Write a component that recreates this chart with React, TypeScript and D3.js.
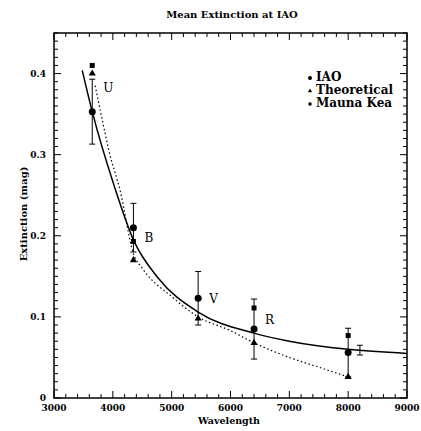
import React, { useEffect, useRef } from "react";
import * as d3 from "d3";

// band labels and wavelengths of the measurements
const bands = ["U", "B", "V", "R", ""];
const wavelengths = [3650, 4350, 5450, 6400, 8000];

// IAO mean extinction with error
const iaoValues = [0.353, 0.21, 0.123, 0.085, 0.056];
const iaoErrors = [0.04, 0.03, 0.033, 0.037, 0.03];

// theoretical values and Mauna Kea values
const theoryValues = [0.4, 0.17, 0.098, 0.068, 0.026];
const maunaWavelengths = [3650, 4350, 6400, 8000];
const maunaValues = [0.41, 0.193, 0.111, 0.077];

// lone error bar near 8200
const extraWavelengths = [8200];
const extraValues = [0.059];
const extraErrors = [0.006];

// fitted IAO curve (solid)
const fitWavelengths = [3480, 3650, 4030, 4350, 4770, 5450, 6400, 7000, 8000, 9000];
const fitValues = [0.404, 0.353, 0.26, 0.195, 0.148, 0.106, 0.08, 0.07, 0.06, 0.055];

// theoretical curve (dotted)
const theoWavelengths = [3700, 3800, 3950, 4120, 4350, 4500, 5000, 5450, 6000, 6400, 7000, 7500, 8000];
const theoCurve = [0.385, 0.35, 0.3, 0.257, 0.178, 0.16, 0.125, 0.1, 0.083, 0.068, 0.05, 0.038, 0.026];

// where the band letters sit (extinction units)
const bandLabelY = [0.384, 0.198, 0.123, 0.098, 0];

const xTicks = [3000, 4000, 5000, 6000, 7000, 8000, 9000];
const yTicks = [0, 0.1, 0.2, 0.3, 0.4];
const legendLabels = ["IAO", "Theoretical", "Mauna Kea"];

const App = () => {
  const ref = useRef<SVGSVGElement>(null);

  useEffect(() => {
    var width = 421,
      height = 431,
      left = 54,
      right = 407,
      top = 33,
      bottom = 398,
      serif = "'DejaVu Serif', serif",
      x = d3.scaleLinear().domain([3000, 9000]).range([left, right]),
      y = d3.scaleLinear().domain([0, 0.45]).range([bottom, top]);

    const svg = d3.select(ref.current);
    svg.selectAll("*").remove();
    svg.attr("width", width).attr("height", height);
    svg.append("rect").attr("width", width).attr("height", height).attr("fill", "#fff");

    // title
    svg
      .append("text")
      .attr("x", 232)
      .attr("y", 18)
      .attr("text-anchor", "middle")
      .attr("font-family", serif)
      .attr("font-weight", "bold")
      .attr("font-size", 10)
      .text("Mean Extinction at IAO");

    // frame
    svg
      .append("rect")
      .attr("x", left)
      .attr("y", top)
      .attr("width", right - left)
      .attr("height", bottom - top)
      .attr("fill", "none")
      .attr("stroke", "#000")
      .attr("stroke-width", 1.5);

    // ticks on all four sides, pointing in
    const ticks = svg.append("g").attr("stroke", "#000").attr("stroke-width", 1);
    d3.range(3000, 9001, 200).forEach(v => {
      const len = v % 1000 === 0 ? 7 : 4;
      ticks.append("line").attr("x1", x(v)).attr("x2", x(v)).attr("y1", bottom).attr("y2", bottom - len);
      ticks.append("line").attr("x1", x(v)).attr("x2", x(v)).attr("y1", top).attr("y2", top + len);
    });
    d3.range(0, 46).forEach(i => {
      const v = i / 100;
      const len = i % 10 === 0 ? 7 : 4;
      ticks.append("line").attr("x1", left).attr("x2", left + len).attr("y1", y(v)).attr("y2", y(v));
      ticks.append("line").attr("x1", right).attr("x2", right - len).attr("y1", y(v)).attr("y2", y(v));
    });

    // tick labels
    svg
      .selectAll("text.xl")
      .data(xTicks)
      .enter()
      .append("text")
      .attr("class", "xl")
      .attr("x", d => x(d))
      .attr("y", 411)
      .attr("text-anchor", "middle")
      .attr("font-family", serif)
      .attr("font-weight", "bold")
      .attr("font-size", 9)
      .text(d => d);

    svg
      .selectAll("text.yl")
      .data(yTicks)
      .enter()
      .append("text")
      .attr("class", "yl")
      .attr("x", 46)
      .attr("y", d => y(d) + 3)
      .attr("text-anchor", "end")
      .attr("font-family", serif)
      .attr("font-weight", "bold")
      .attr("font-size", 9)
      .text(d => (d === 0 ? "0" : d.toFixed(1)));

    // axis titles
    svg
      .append("text")
      .attr("x", 229)
      .attr("y", 424)
      .attr("text-anchor", "middle")
      .attr("font-family", serif)
      .attr("font-weight", "bold")
      .attr("font-size", 9.5)
      .text("Wavelength");

    svg
      .append("text")
      .attr("transform", "translate(27,214) rotate(-90)")
      .attr("text-anchor", "middle")
      .attr("font-family", serif)
      .attr("font-weight", "bold")
      .attr("font-size", 10)
      .text("Extinction (mag)");

    // curves
    var fitLine = d3
      .line<number>()
      .x(d => x(d))
      .y((d, i) => y(fitValues[i]))
      .curve(d3.curveMonotoneX);
    svg
      .append("path")
      .attr("d", fitLine(fitWavelengths))
      .attr("fill", "none")
      .attr("stroke", "#000")
      .attr("stroke-width", 1.5);

    var theoLine = d3
      .line<number>()
      .x(d => x(d))
      .y((d, i) => y(theoCurve[i]))
      .curve(d3.curveMonotoneX);
    svg
      .append("path")
      .attr("d", theoLine(theoWavelengths))
      .attr("fill", "none")
      .attr("stroke", "#000")
      .attr("stroke-width", 1.2)
      .attr("stroke-dasharray", "1.5,2.5");

    // error bars
    const errorBar = (wx: number, v: number, e: number) => {
      const g = svg.append("g").attr("stroke", "#000").attr("stroke-width", 1);
      g.append("line").attr("x1", x(wx)).attr("x2", x(wx)).attr("y1", y(v - e)).attr("y2", y(v + e));
      g.append("line").attr("x1", x(wx) - 3).attr("x2", x(wx) + 3).attr("y1", y(v - e)).attr("y2", y(v - e));
      g.append("line").attr("x1", x(wx) - 3).attr("x2", x(wx) + 3).attr("y1", y(v + e)).attr("y2", y(v + e));
    };
    wavelengths.forEach((w, i) => errorBar(w, iaoValues[i], iaoErrors[i]));
    extraWavelengths.forEach((w, i) => errorBar(w, extraValues[i], extraErrors[i]));

    // markers
    const tri = d3.symbol().type(d3.symbolTriangle).size(22);
    svg
      .selectAll("path.theo")
      .data(wavelengths)
      .enter()
      .append("path")
      .attr("class", "theo")
      .attr("d", tri())
      .attr("transform", (d, i) => "translate(" + x(d) + "," + y(theoryValues[i]) + ")")
      .attr("fill", "#000");

    svg
      .selectAll("rect.mk")
      .data(maunaWavelengths)
      .enter()
      .append("rect")
      .attr("class", "mk")
      .attr("x", d => x(d) - 2.5)
      .attr("y", (d, i) => y(maunaValues[i]) - 2.5)
      .attr("width", 5)
      .attr("height", 5)
      .attr("fill", "#000");

    svg
      .selectAll("circle.iao")
      .data(wavelengths)
      .enter()
      .append("circle")
      .attr("class", "iao")
      .attr("cx", d => x(d))
      .attr("cy", (d, i) => y(iaoValues[i]))
      .attr("r", 3.5)
      .attr("fill", "#000");

    // band labels
    svg
      .selectAll("text.band")
      .data(bands)
      .enter()
      .append("text")
      .attr("class", "band")
      .attr("x", (d, i) => x(wavelengths[i]) + 11)
      .attr("y", (d, i) => y(bandLabelY[i]) + 5)
      .attr("font-family", serif)
      .attr("font-size", 12)
      .text(d => d);

    // legend
    const lg = svg.append("g");
    legendLabels.forEach((t, i) => {
      const ly = 77 + i * 13;
      if (i === 0) lg.append("circle").attr("cx", 310).attr("cy", ly + 1).attr("r", 2).attr("fill", "#000");
      if (i === 1) lg.append("path").attr("d", d3.symbol().type(d3.symbolTriangle).size(8)()).attr("transform", "translate(310," + (ly + 1) + ")").attr("fill", "#000");
      if (i === 2) lg.append("rect").attr("x", 308.5).attr("y", ly - 0.5).attr("width", 3).attr("height", 3).attr("fill", "#000");
      lg.append("text")
        .attr("x", 316)
        .attr("y", ly + 4)
        .attr("font-family", serif)
        .attr("font-weight", "bold")
        .attr("font-size", 12)
        .text(t);
    });
  }, []);

  return (
    <div style={{ position: "absolute", left: 0, top: 0 }}>
      <svg ref={ref}></svg>
    </div>
  );
};

export default App;
